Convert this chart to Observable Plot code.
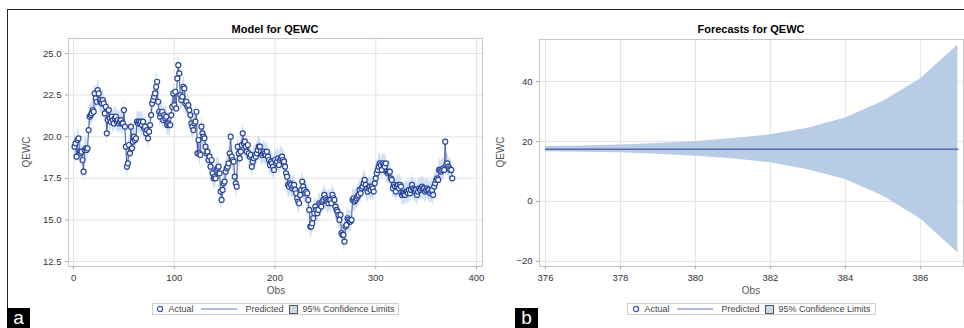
<!DOCTYPE html>
<html><head><meta charset="utf-8">
<script src="https://cdn.jsdelivr.net/npm/d3@7"></script>
<script src="https://cdn.jsdelivr.net/npm/@observablehq/plot@0.6"></script>
<style>
body{margin:0;background:#fff;font-family:"Liberation Sans",Arial,sans-serif;}
#wrap{position:relative;width:964px;height:328px;overflow:hidden;background:#fff;}
.abs{position:absolute;}
.title{font-weight:bold;font-size:11px;color:#000;transform:translateX(-50%);white-space:nowrap;line-height:12px;}
.axlab{font-size:10px;color:#555;white-space:nowrap;line-height:11px;}
.xlab{transform:translateX(-50%);}
.ylab{transform:translate(-50%,-50%) rotate(-90deg);}
.legend{border:1px solid #cfcfcf;height:12px;display:flex;align-items:center;justify-content:center;font-size:9px;color:#444;white-space:nowrap;box-sizing:border-box;padding:0 3px;overflow:visible;}
.legend svg{display:block;margin-right:4px;flex-shrink:0;}
.legend span{margin-right:6px;flex-shrink:0;}
.tag{background:#000;color:#fff;font-size:19px;line-height:19px;width:23px;height:20px;text-align:center;font-family:"Liberation Sans",Arial,sans-serif;}
</style>
</head><body>
<div id="wrap">
  <div class="abs" style="left:7px;top:9px;width:957px;height:1px;background:#222;"></div>
  <div class="abs" style="left:7px;top:9px;width:1px;height:300px;background:#222;"></div>
  <div id="leftPlot" class="abs" style="left:0;top:0;"></div>
  <div id="rightPlot" class="abs" style="left:490px;top:0;"></div>
  <div class="abs title" style="left:275px;top:23px;">Model for QEWC</div>
  <div class="abs title" style="left:751px;top:23px;">Forecasts for QEWC</div>
  <div class="abs axlab xlab" style="left:276px;top:285px;">Obs</div>
  <div class="abs axlab xlab" style="left:751px;top:285px;">Obs</div>
  <div class="abs axlab ylab" style="left:26px;top:152px;">QEWC</div>
  <div class="abs axlab ylab" style="left:500px;top:152px;">QEWC</div>
  <div id="legA" class="abs legend" style="left:152px;top:303px;width:247px;"></div>
  <div id="legB" class="abs legend" style="left:627px;top:303px;width:249px;"></div>
  <div class="abs tag" style="left:7px;top:308px;">a</div>
  <div class="abs tag" style="left:515px;top:308px;">b</div>
</div>
<script>
// ---- Data: model fit (observations 1..376) ----
const actualQEWC = [
19.4,19.6,18.8,19.8,19.9,19.1,19.0,19.1,18.6,17.9,
19.2,19.3,19.2,19.3,20.4,21.2,21.3,21.4,21.6,21.5,
22.6,22.3,22.1,22.8,22.6,22.2,22.1,22.0,22.2,22.0,
21.4,21.8,20.2,21.0,21.6,21.1,20.9,21.2,21.0,20.8,
21.1,21.2,20.9,21.0,20.8,20.9,21.0,20.8,20.8,21.6,
20.6,19.4,18.2,18.4,19.5,19.0,20.6,19.3,19.7,20.0,
19.8,19.9,20.9,20.8,20.9,20.8,20.9,20.7,20.9,20.5,
20.6,20.2,20.4,19.9,20.3,20.7,21.3,22.0,22.2,22.4,
22.6,23.0,23.3,22.1,21.5,21.2,21.4,21.5,21.0,21.3,
21.1,21.2,20.7,20.8,20.7,20.7,21.3,21.8,22.6,21.9,
22.7,21.7,23.5,24.3,23.8,22.5,22.2,22.4,23.0,22.9,
22.0,22.1,21.8,21.9,21.6,21.3,20.8,20.6,20.4,20.8,
20.9,21.5,19.0,19.8,19.0,18.9,20.6,20.2,20.0,19.9,
19.4,19.0,19.1,18.6,18.8,18.2,18.6,17.8,17.5,17.6,
17.5,18.0,18.1,18.2,17.8,16.7,16.2,16.8,17.2,17.3,
17.9,18.1,18.2,18.4,19.0,20.0,18.8,18.6,18.5,17.6,
17.2,17.0,19.4,19.0,18.7,19.1,19.5,20.2,19.6,19.7,
19.4,19.1,19.5,19.0,18.8,18.9,18.2,18.5,18.7,18.9,
18.8,19.0,19.2,19.4,19.4,19.1,18.9,19.0,19.1,19.0,
18.9,19.1,18.8,18.6,18.3,18.5,18.4,18.2,18.0,18.6,
18.4,18.5,18.7,18.3,18.6,18.7,18.8,18.6,18.5,18.2,
17.8,17.6,17.1,17.0,17.2,17.1,16.9,17.0,17.1,16.8,
16.6,16.3,16.1,16.0,16.5,16.8,17.3,17.0,16.8,16.6,
16.7,16.6,16.2,15.6,14.6,14.6,14.8,15.1,15.4,15.8,
15.6,15.4,15.6,16.0,15.9,15.8,16.1,16.2,16.5,16.3,
16.2,16.1,16.0,16.2,16.2,16.0,16.5,16.3,16.2,15.8,
15.6,15.5,15.3,15.0,15.3,14.2,14.1,14.1,13.7,14.6,
14.7,15.1,15.0,14.9,14.9,15.0,16.2,16.3,16.1,16.2,
16.3,16.4,16.5,16.8,16.6,16.9,17.0,17.2,17.4,17.1,
16.9,16.7,16.9,17.0,16.8,17.0,16.9,16.7,17.2,17.5,
17.8,18.0,18.2,18.4,18.3,18.0,18.4,18.3,18.2,18.4,
17.9,17.8,17.9,17.9,17.5,17.4,16.9,17.1,17.0,16.7,
17.0,17.1,16.9,17.1,17.0,16.5,16.6,16.6,16.5,16.7,
16.7,16.6,16.8,16.6,16.8,17.1,16.9,16.8,16.7,16.8,
16.5,16.7,16.9,16.8,16.9,17.0,16.9,16.9,16.7,16.8,
16.9,16.8,16.8,16.6,16.7,16.8,16.5,17.0,17.2,17.4,
17.5,17.4,18.0,18.0,17.9,18.0,18.1,18.0,19.7,18.3,
18.4,18.2,18.1,18.0,18.0,17.5
];
const ciHalfWidth = 0.65;   // half-width of 95% limits in the model panel
const modelXTicks = [0, 100, 200, 300, 400];
const modelYTicks = [12.5, 15.0, 17.5, 20.0, 22.5, 25.0];

// ---- Data: forecasts ----
const forecastObs   = [376, 377, 378, 379, 380, 381, 382, 383, 384, 385, 386, 387];
const forecastPred  = [17.4, 17.4, 17.4, 17.4, 17.4, 17.4, 17.4, 17.4, 17.4, 17.4, 17.4, 17.4];
const forecastUpper = [18.3, 18.5, 18.8, 19.3, 19.9, 21.0, 22.2, 24.4, 27.8, 33.3, 40.8, 52.2];
const forecastLower = [16.6, 16.4, 16.2, 15.7, 15.1, 14.2, 12.9, 10.6, 7.3, 1.8, -5.8, -17.1];
const forecastXTicks = [376, 378, 380, 382, 384, 386];
const forecastYTicks = [-20, 0, 20, 40];

const modelData = actualQEWC.map((v, i) => ({obs: i + 1, actual: v, pred: v, lo: v - ciHalfWidth, hi: v + ciHalfWidth}));
const fcData = forecastObs.map((o, i) => ({obs: o, pred: forecastPred[i], lo: forecastLower[i], hi: forecastUpper[i]}));

const font = "Liberation Sans, Arial, sans-serif";
const gridColor = "#e4e4e4";
const frameColor = "#c6c6c6";

const leftChart = Plot.plot({
  width: 490, height: 300,
  marginLeft: 68, marginRight: 8, marginTop: 38, marginBottom: 34,
  style: {fontFamily: font, fontSize: "9.5px", color: "#333", background: "transparent", overflow: "visible"},
  x: {domain: [-5, 406]},
  y: {domain: [12.2, 25.9]},
  marks: [
    Plot.gridX(modelXTicks, {stroke: gridColor, strokeOpacity: 1}),
    Plot.gridY(modelYTicks, {stroke: gridColor, strokeOpacity: 1}),
    Plot.areaY(modelData, {x: "obs", y1: "lo", y2: "hi", fill: "#c9daf0", fillOpacity: 0.85}),
    Plot.lineY(modelData, {x: "obs", y: "pred", stroke: "#4a5ea6", strokeWidth: 1}),
    Plot.dot(modelData, {x: "obs", y: "actual", r: 2.5, stroke: "#27459b", fill: "white", strokeWidth: 1.2}),
    Plot.frame({stroke: frameColor}),
    Plot.axisX(modelXTicks, {tickSize: 3, tickPadding: 5, stroke: "#aaa", fill: "#333", label: null}),
    Plot.axisY(modelYTicks, {tickSize: 3, tickPadding: 4, stroke: "#aaa", fill: "#333", tickFormat: d3.format(".1f"), label: null})
  ]
});
document.getElementById("leftPlot").appendChild(leftChart);

const rightChart = Plot.plot({
  width: 474, height: 300,
  marginLeft: 49, marginRight: 1, marginTop: 39, marginBottom: 34,
  style: {fontFamily: font, fontSize: "9.5px", color: "#333", background: "transparent", overflow: "visible"},
  x: {domain: [375.84, 387.15]},
  y: {domain: [-21.7, 54]},
  marks: [
    Plot.gridX(forecastXTicks, {stroke: gridColor, strokeOpacity: 1}),
    Plot.gridY(forecastYTicks, {stroke: gridColor, strokeOpacity: 1}),
    Plot.areaY(fcData, {x: "obs", y1: "lo", y2: "hi", fill: "#b8cce6"}),
    Plot.lineY(fcData, {x: "obs", y: "pred", stroke: "#5669a8", strokeWidth: 1.5}),
    Plot.frame({stroke: frameColor}),
    Plot.axisX(forecastXTicks, {tickSize: 3, tickPadding: 5, stroke: "#aaa", fill: "#333", label: null}),
    Plot.axisY(forecastYTicks, {tickSize: 3, tickPadding: 4, stroke: "#aaa", fill: "#333", label: null})
  ]
});
document.getElementById("rightPlot").appendChild(rightChart);

const legendItems = ["Actual", "Predicted", "95% Confidence Limits"];
function buildLegend(el) {
  el.innerHTML =
    `<svg width="8" height="8"><circle cx="4" cy="4" r="2.6" fill="white" stroke="#3a56b0" stroke-width="1.2"/></svg><span>${legendItems[0]}</span>` +
    `<svg width="40" height="8" style="margin-right:6px"><line x1="2" x2="38" y1="4" y2="4" stroke="#6677b5" stroke-width="1.2"/></svg><span>${legendItems[1]}</span>` +
    `<svg width="9" height="9"><rect x="0.5" y="0.5" width="8" height="8" fill="#c9daf0" stroke="#555"/></svg><span style="margin-right:0">${legendItems[2]}</span>`;
}
buildLegend(document.getElementById("legA"));
buildLegend(document.getElementById("legB"));
</script>
</body></html>
